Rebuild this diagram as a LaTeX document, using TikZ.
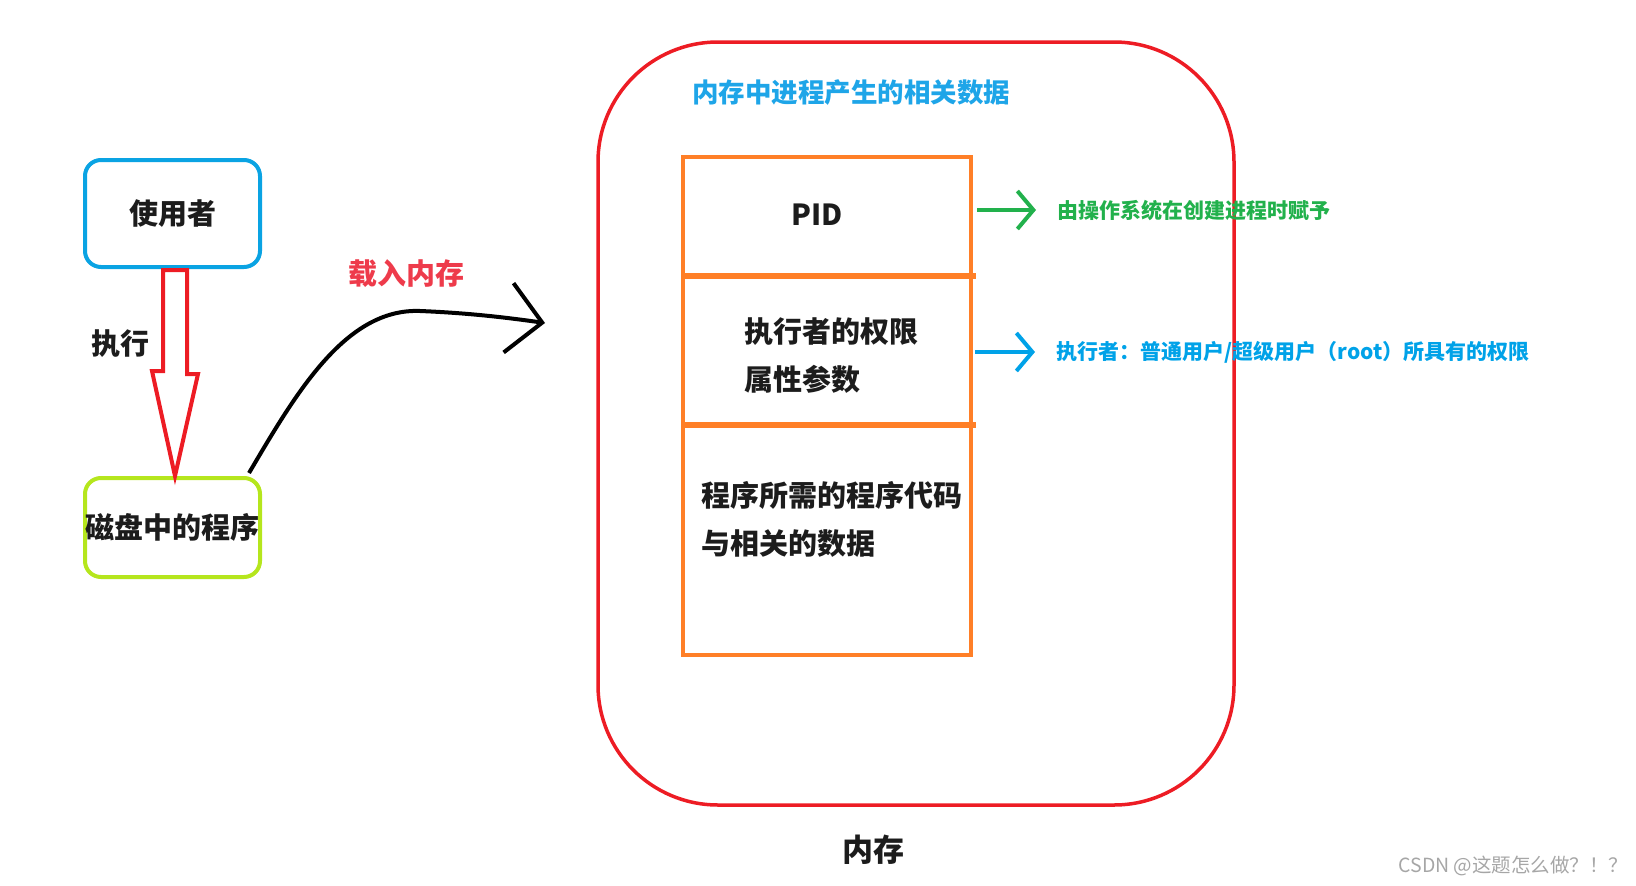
\documentclass[tikz,border=0pt]{standalone}
\usepackage{fontspec}
\setmainfont{Noto Sans CJK SC}
\usetikzlibrary{calc,arrows.meta}

\definecolor{ink}{HTML}{1C1C1C}
\definecolor{userblue}{HTML}{0AA3E3}
\definecolor{diskgreen}{HTML}{B5E61D}
\definecolor{arrowred}{HTML}{ED1C24}
\definecolor{loadred}{HTML}{EE3B4B}
\definecolor{memred}{HTML}{ED1C24}
\definecolor{cellorange}{HTML}{FF7F27}
\definecolor{notegreen}{HTML}{22B14C}
\definecolor{noteblue}{HTML}{00A2E8}
\definecolor{titleblue}{HTML}{1EA5E8}

\begin{document}
\begin{tikzpicture}[
        x=1pt, y=-1pt,
        lbl/.style={font=\fontsize{29}{48}\selectfont\bfseries, text=ink},
        box/.style={draw, line width=4pt, rounded corners=16pt, minimum width=175pt, inner sep=0pt},
        cell/.style={draw=cellorange, line width=4pt, minimum width=288pt, anchor=north west, inner sep=0pt, outer sep=0pt},
        divider/.style={cellorange, line width=6pt},
        note/.style={anchor=west, font=\fontsize{21}{25}\selectfont\bfseries},
        pointer/.style={line width=4pt, -{Straight Barb[length=16pt, width=38pt]}},
        load/.style={line width=4pt, black},
    ]
    \useasboundingbox (0, 0) rectangle (1636, 886);

    % left side
    \node[box, draw=userblue, minimum height=107pt, lbl] (user) at (172.5, 213.5) {使用者};
    \node[box, draw=diskgreen, minimum height=99pt, lbl] (disk) at (172.5, 527.5) {磁盘中的程序};
    \draw[arrowred, line width=4pt] ($(user.south)+(-9.5, 1)$) -- ++(24, 0) -- ++(0, 104) -- ++(11, 0)
        -- ($(disk.north)+(2.5, 0)$) -- ++(-23, -105) -- ++(11, 0) -- cycle;
    \node[lbl] (exec) at (120, 344) {执行};

    \node[lbl, text=loadred] (loadlbl) at (406, 274) {载入内存};
    \coordinate (memin) at (545, 323);
    \draw[load, -{Straight Barb[length=34pt, width=70pt]}] ($(disk.north east)+(-13, -3)$)
        .. controls (295, 395) and (345, 308) .. (420, 311)
        .. controls (470, 313) and (510, 318) .. (memin);

    % memory
    \node[draw=memred, line width=3.5pt, rounded corners=120pt, minimum width=636pt,
        minimum height=763pt, inner sep=0pt] (mem) at (916, 423.5) {};
    \node[font=\fontsize{26.5}{30}\selectfont\bfseries, text=titleblue] (title) at (851, 93) {内存中进程产生的相关数据};

    \node[cell, minimum height=119pt] (pidcell) at (683, 157) {};
    \node[cell, minimum height=149pt] (permcell) at (pidcell.south west) {};
    \node[cell, minimum height=230pt] (codecell) at (permcell.south west) {};
    \draw[divider] (pidcell.south west) -- ([xshift=5pt]pidcell.south east);
    \draw[divider] (permcell.south west) -- ([xshift=5pt]permcell.south east);

    \node[lbl] (pid) at (817, 215) {PID};
    \node[lbl, align=left, anchor=west] (perm) at (741, 356) {执行者的权限\\属性参数};
    \node[lbl, align=left, anchor=west] (code) at (698, 519) {程序所需的程序代码\\与相关的数据};

    \node[note, text=notegreen] (pidnote) at (1054, 210) {由操作系统在创建进程时赋予};
    \draw[pointer, notegreen] ([xshift=6pt]pidcell.east |- pidnote.west) -- ([xshift=-18pt]pidnote.west);
    \node[note, text=noteblue] (permnote) at (1053, 352) {执行者：普通用户/超级用户（root）所具有的权限};
    \draw[pointer, noteblue] ([xshift=4pt]permcell.east |- permnote.west) -- ([xshift=-18pt]permnote.west);

    \node[lbl, font=\fontsize{31}{36}\selectfont\bfseries] (memlabel) at (873, 850) {内存};

    \node[anchor=west, text=gray!70, font=\fontsize{19.5}{22}\selectfont] (mark) at (1395, 866) {CSDN @这题怎么做？！？};
\end{tikzpicture}
\end{document}
